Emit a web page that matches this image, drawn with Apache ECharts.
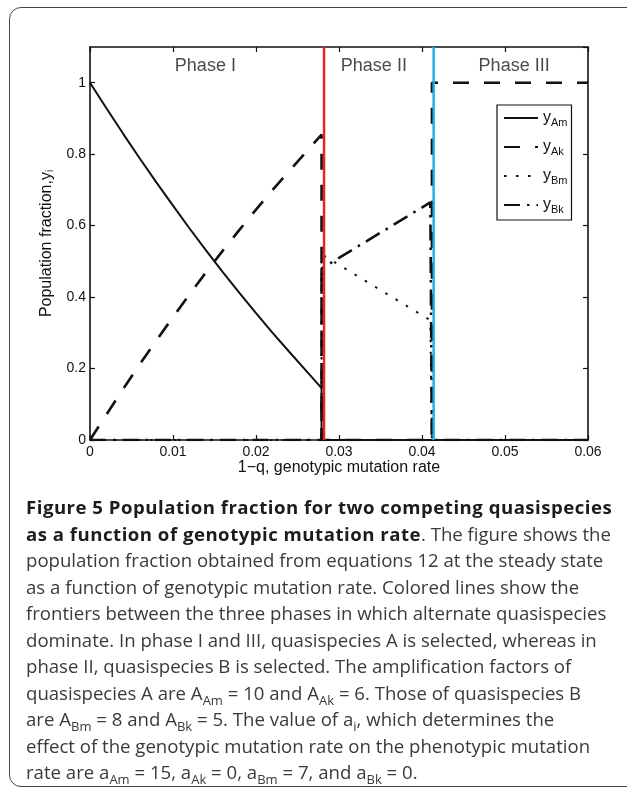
<!DOCTYPE html>
<html><head><meta charset="utf-8">
<script src="https://cdn.jsdelivr.net/npm/echarts@6/dist/echarts.min.js"></script>
<style>
html,body{margin:0;padding:0;background:#fff;overflow:hidden}
#wrap{position:relative;width:627px;height:790px;overflow:hidden;background:#fff}
#frame{position:absolute;left:9px;top:7px;width:720px;height:780px;border:1.5px solid #444;border-radius:12px;box-sizing:border-box}
#chart{position:absolute;left:0;top:0;width:627px;height:790px}
#cap{position:absolute;left:26px;top:494px;white-space:nowrap;font-family:"Open Sans";font-size:18.6px;line-height:26.5px;color:#3a3a3a}
#cap b{color:#1c1c1c;letter-spacing:0.5px}
#cap sub{font-size:0.7em;line-height:0;vertical-align:-0.35em}
</style></head>
<body>
<div id="wrap">
<div id="frame"></div>
<div id="chart"></div>
<div id="cap">
<b>Figure 5 Population fraction for two competing quasispecies</b><br>
<b>as a function of genotypic mutation rate</b>. The figure shows the<br>
population fraction obtained from equations 12 at the steady state<br>
as a function of genotypic mutation rate. Colored lines show the<br>
frontiers between the three phases in which alternate quasispecies<br>
dominate. In phase I and III, quasispecies A is selected, whereas in<br>
phase II, quasispecies B is selected. The amplification factors of<br>
quasispecies A are A<sub>Am</sub> = 10 and A<sub>Ak</sub> = 6. Those of quasispecies B<br>
are A<sub>Bm</sub> = 8 and A<sub>Bk</sub> = 5. The value of a<sub>i</sub>, which determines the<br>
effect of the genotypic mutation rate on the phenotypic mutation<br>
rate are a<sub>Am</sub> = 15, a<sub>Ak</sub> = 0, a<sub>Bm</sub> = 7, and a<sub>Bk</sub> = 0.
</div>
</div>
<script>
// Phase I
const xPhaseI = [0, 0.002, 0.004, 0.006, 0.008, 0.010, 0.012, 0.014, 0.016, 0.018, 0.020, 0.022, 0.024, 0.026, 0.0279];
const yAmPhaseI = [1.0, 0.928, 0.857, 0.788, 0.721, 0.656, 0.592, 0.530, 0.470, 0.412, 0.355, 0.300, 0.247, 0.195, 0.145];
const yAkPhaseI = [0.0, 0.072, 0.143, 0.212, 0.279, 0.344, 0.408, 0.470, 0.530, 0.588, 0.645, 0.700, 0.753, 0.805, 0.855];
// transitions
const xJump1 = 0.0279, xJump2 = 0.0412, xEnd = 0.06;
// Phase II
const xPhaseII = [0.0279, 0.0410];
const yBmPhaseII = [0.52, 0.335];
const yBkPhaseII = [0.48, 0.665];
// Phase III
const yAkPhaseIII = 1.0;
// Frontiers
const frontiers = [0.0282, 0.0414];
const frontierColors = ['#e8202a', '#1aaee6'];
const phaseLabels = [[0.0139, 1.046, 'Phase I'], [0.0342, 1.046, 'Phase II'], [0.0511, 1.046, 'Phase III']];
const xTicks = {min: 0, max: 0.06, interval: 0.01};
const yTicks = {min: 0, max: 1.1, interval: 0.2};

const am = xPhaseI.map((x, i) => [x, yAmPhaseI[i]]).concat([[xJump1, 0], [xEnd, 0]]);
const ak = xPhaseI.map((x, i) => [x, yAkPhaseI[i]]).concat([[xJump1, 0], [xJump2, 0], [xJump2, yAkPhaseIII], [xEnd, yAkPhaseIII]]);
const bm = [[0, 0], [xJump1, 0]].concat(xPhaseII.map((x, i) => [x, yBmPhaseII[i]])).concat([[xJump2, 0], [xEnd, 0]]);
const bk = [[0, 0], [xJump1, 0]].concat(xPhaseII.map((x, i) => [x, yBkPhaseII[i]])).concat([[xJump2, 0], [xEnd, 0]]);

const subs = {yAm: 'Am', yAk: 'Ak', yBm: 'Bm', yBk: 'Bk'};
const FONT = 'Liberation Sans';
const INK = '#111';
const chart = echarts.init(document.getElementById('chart'), null, {renderer: 'canvas'});
function lineSeries(name, data, type, width) {
  return {name, type: 'line', data, symbol: 'none', showSymbol: false, animation: false, color: INK,
    itemStyle: {color: INK},
    lineStyle: {color: INK, width, type, cap: 'butt'}, z: 3};
}
const axisCommon = {
  axisLine: {show: true, onZero: false, lineStyle: {color: INK, width: 1.6}},
  axisTick: {show: true, inside: true, length: 5, lineStyle: {color: INK, width: 1.2}},
  splitLine: {show: false}
};
const frontierSeries = frontiers.map((x, i) => ({
  name: 'frontier' + i, type: 'line', data: [[x, yTicks.min], [x, yTicks.max]], symbol: 'none',
  silent: true, animation: false, z: 5, lineStyle: {color: frontierColors[i], width: 2.4, type: 'solid'}
}));
chart.setOption({
  animation: false,
  backgroundColor: 'transparent',
  grid: {left: 90, right: 39, top: 47, bottom: 350, containLabel: false},
  legend: {
    data: ['yAm', 'yAk', 'yBm', 'yBk'], orient: 'vertical', left: 497, top: 105,
    padding: [5, 4, 5, 6], itemGap: 11, itemWidth: 34, itemHeight: 14,
    borderColor: INK, borderWidth: 1.2, backgroundColor: '#fff', selectedMode: false,
    itemStyle: {opacity: 0, borderWidth: 0},
    formatter: n => '{y|y}{s|' + subs[n] + '}',
    textStyle: {fontFamily: FONT, color: INK, rich: {
      y: {fontSize: 16, fontFamily: FONT, color: INK},
      s: {fontSize: 11, fontFamily: FONT, color: INK, padding: [9, 0, 0, 0]}
    }}
  },
  xAxis: [
    Object.assign({type: 'value', position: 'bottom', min: xTicks.min, max: xTicks.max, interval: xTicks.interval,
      name: '1\u2212q, genotypic mutation rate', nameLocation: 'middle', nameGap: 19,
      nameTextStyle: {fontFamily: FONT, fontSize: 16, color: INK},
      axisLabel: {fontFamily: FONT, fontSize: 14, color: INK, margin: 5}}, axisCommon),
    Object.assign({type: 'value', position: 'top', min: xTicks.min, max: xTicks.max, interval: xTicks.interval,
      axisLabel: {show: false}}, axisCommon)
  ],
  yAxis: [
    Object.assign({type: 'value', position: 'left', min: yTicks.min, max: yTicks.max, interval: yTicks.interval,
      name: '{a|Population fraction,y}{s|i}', nameLocation: 'middle', nameGap: 28,
      nameTextStyle: {fontFamily: FONT, fontSize: 16, color: INK, rich: {
        a: {fontFamily: FONT, fontSize: 16, color: INK},
        s: {fontFamily: FONT, fontSize: 10, color: INK, padding: [8, 0, 0, 0]}}},
      axisLabel: {fontFamily: FONT, fontSize: 14, color: INK, margin: 4, showMaxLabel: false}}, axisCommon),
    Object.assign({type: 'value', position: 'right', min: yTicks.min, max: yTicks.max, interval: yTicks.interval,
      axisLabel: {show: false}}, axisCommon)
  ],
  series: [
    lineSeries('yAm', am, 'solid', 2),
    lineSeries('yAk', ak, [16, 15], 2.6),
    lineSeries('yBm', bm, [2.5, 9.5], 2),
    lineSeries('yBk', bk, [16, 7, 2.5, 7], 2.6),
    ...frontierSeries,
    {name: 'labels', type: 'scatter', data: phaseLabels, symbolSize: 0, silent: true, z: 6,
      label: {show: true, position: 'inside', formatter: p => p.data[2], fontFamily: FONT, fontSize: 18, color: '#1a1a1a'}}
  ]
});
</script>
</body></html>
